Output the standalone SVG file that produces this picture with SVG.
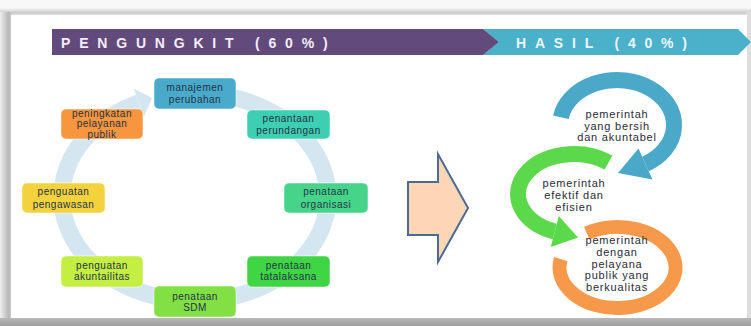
<svg xmlns="http://www.w3.org/2000/svg" width="751" height="326" viewBox="0 0 751 326">
<defs>
<linearGradient id="gTop" x1="0" y1="0" x2="0" y2="1"><stop offset="0" stop-color="#f7f7f7"/><stop offset="0.6" stop-color="#c9c9c9"/><stop offset="1" stop-color="#eeeeee"/></linearGradient>
<linearGradient id="gBot" x1="0" y1="0" x2="0" y2="1"><stop offset="0" stop-color="#b9b9b9"/><stop offset="1" stop-color="#9c9c9c"/></linearGradient>
<linearGradient id="gLeft" x1="0" y1="0" x2="1" y2="0"><stop offset="0" stop-color="#efefef"/><stop offset="0.7" stop-color="#b8b8b8"/><stop offset="1" stop-color="#d0d0d0"/></linearGradient>
</defs>
<style>
.hd{font-family:"Liberation Sans",Arial,sans-serif;font-weight:bold;font-size:14px;letter-spacing:8.8px}
.nb{stroke:#ffffff;stroke-opacity:0.5;stroke-width:1}
.nt{font-family:"Liberation Sans",Arial,sans-serif;font-size:10px;letter-spacing:0.5px;fill:#243446;text-anchor:middle}
.rt{font-family:"Liberation Sans",Arial,sans-serif;font-size:11px;letter-spacing:0.8px;fill:#2b2b38;text-anchor:middle}
.ring{fill:none;stroke:#d4e6ef;stroke-width:17}
</style>
<!-- frame -->
<rect x="0" y="0" width="751" height="326" fill="#f8f8f8"/>
<rect x="0" y="8" width="751" height="8" fill="url(#gTop)"/>
<rect x="0" y="12" width="12" height="314" fill="url(#gLeft)"/>
<rect x="746" y="12" width="5" height="314" fill="#dedede"/>
<rect x="11" y="15" width="736" height="303" fill="#ffffff"/>
<rect x="0" y="318" width="751" height="8" fill="url(#gBot)"/>
<!-- header -->
<g id="header">
<polygon points="483,29 738,29 751,42 738,55 483,55 499,42" fill="#4bb0ca"/>
<polygon points="52,29 483,29 499,42 483,55 52,55" fill="#634a7c"/>
<text class="hd" x="61" y="47.5" fill="#f3eef7">PENGUNGKIT (60%)</text>
<text class="hd" x="516" y="47.5" fill="#eaf7fb">HASIL (40%)</text>
</g>
<!-- connectors -->
<g id="connectors">
<path class="ring" d="M222.7,95.3 A133 104 0 1 1 138.8,102.7"/>
<polygon points="133.7,88.6 143.9,116.8 152,97.9" fill="#d4e6ef"/>
<polygon points="408,182 438,182 438,154 468,208 438,262 438,235 408,235" fill="#fdd6b6" stroke="#4d6a92" stroke-width="2" stroke-linejoin="miter"/>
</g>
<!-- nodes -->
<g id="n-manajemen"><rect class="nb" x="154" y="78" width="82" height="31" rx="5" fill="#4aaacb"/><text class="nt" x="195" y="90.5">manajemen</text><text class="nt" x="195" y="102.5">perubahan</text></g>
<g id="n-perundangan"><rect class="nb" x="247" y="110" width="83" height="29" rx="5" fill="#3ecfb2"/><text class="nt" x="288.5" y="121.8">penantaan</text><text class="nt" x="288.5" y="133.5">perundangan</text></g>
<g id="n-organisasi"><rect class="nb" x="284" y="183" width="84" height="30" rx="5" fill="#45d48a"/><text class="nt" x="326" y="195.2">penataan</text><text class="nt" x="326" y="207.5">organisasi</text></g>
<g id="n-tatalaksana"><rect class="nb" x="247" y="256" width="83" height="31" rx="5" fill="#3fd545"/><text class="nt" x="288.5" y="268.5">penataan</text><text class="nt" x="288.5" y="280.2">tatalaksana</text></g>
<g id="n-sdm"><rect class="nb" x="154" y="286" width="82" height="31" rx="5" fill="#82df44"/><text class="nt" x="195" y="300">penataan</text><text class="nt" x="195" y="310.5">SDM</text></g>
<g id="n-akuntabilitas"><rect class="nb" x="61" y="256" width="82" height="31" rx="5" fill="#c5ee42"/><text class="nt" x="102" y="268.5">penguatan</text><text class="nt" x="102" y="280.2">akuntailitas</text></g>
<g id="n-pengawasan"><rect class="nb" x="22" y="183" width="83" height="30" rx="5" fill="#f4d23e"/><text class="nt" x="63.5" y="195.2">penguatan</text><text class="nt" x="63.5" y="207.5">pengawasan</text></g>
<g id="n-pelayanan"><rect class="nb" x="61" y="109" width="82" height="30" rx="5" fill="#f7963f"/><text class="nt" x="102" y="116.5">peningkatan</text><text class="nt" x="102" y="127">pelayanan</text><text class="nt" x="102" y="137.5">publik</text></g>
<!-- results -->
<g id="r-pelayanan">
<path d="M586.8,233.2 A58 40.5 0 1 1 560.8,259.1" fill="none" stroke="#f7994a" stroke-width="14"/>
<text class="rt" x="617" y="244">pemerintah</text><text class="rt" x="617" y="255.8">dengan</text><text class="rt" x="617" y="267.6">pelayana</text><text class="rt" x="617" y="279.4">publik yang</text><text class="rt" x="617" y="291.2">berkualitas</text>
</g>
<g id="r-efektif">
<path d="M608.5,162.5 A56 40 0 1 0 554.8,231.6" fill="none" stroke="#5cd94a" stroke-width="16"/>
<polygon points="550.8,247.1 558.8,216.1 578,237.6" fill="#5cd94a"/>
<text class="rt" x="574" y="187">pemerintah</text><text class="rt" x="574" y="199">efektif dan</text><text class="rt" x="574" y="210.5">efisien</text>
</g>
<g id="r-bersih">
<path d="M560.9,117.2 A57 45 0 1 1 645.5,164" fill="none" stroke="#4aa8c8" stroke-width="16"/>
<polygon points="652.5,179.5 638.5,148.5 618,173" fill="#4aa8c8"/>
<text class="rt" x="617" y="117.5">pemerintah</text><text class="rt" x="617" y="129.5">yang bersih</text><text class="rt" x="617" y="141">dan akuntabel</text>
</g>
</svg>
